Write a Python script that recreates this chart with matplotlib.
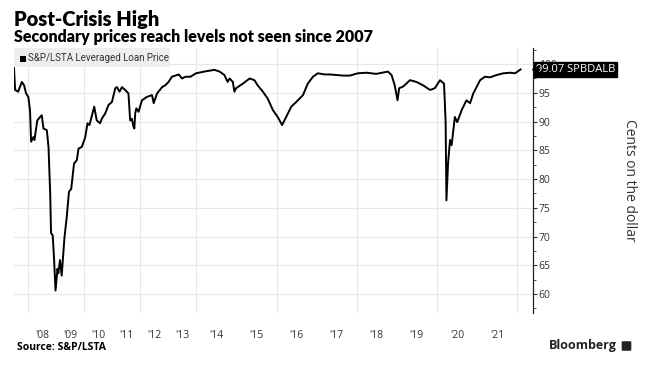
import matplotlib;
matplotlib.use('Agg');
import matplotlib.pyplot as plt;
import numpy as np;
from matplotlib.patches import Rectangle, FancyBboxPatch;

#data (decimal year , price in cents)
years = [2007.50, 2007.54, 2007.65, 2007.78, 2007.86, 2007.93, 2008.01, 2008.07, 2008.11, 2008.19,
         2008.23, 2008.33, 2008.43, 2008.49, 2008.55, 2008.67, 2008.73, 2008.79, 2008.82, 2008.88,
         2008.93, 2008.98, 2009.05, 2009.08, 2009.14, 2009.20, 2009.30, 2009.38, 2009.46, 2009.54,
         2009.64, 2009.74, 2009.80, 2009.92, 2010.04, 2010.12, 2010.19, 2010.28, 2010.36, 2010.45,
         2010.57, 2010.63, 2010.75, 2010.87, 2010.99, 2011.11, 2011.17, 2011.26, 2011.35, 2011.46,
         2011.58, 2011.64, 2011.70, 2011.76, 2011.79, 2011.82, 2011.86, 2011.94, 2012.06, 2012.24,
         2012.42, 2012.48, 2012.60, 2012.78, 2012.89, 2013.01, 2013.13, 2013.37, 2013.49, 2013.61,
         2013.79, 2013.99, 2014.20, 2014.45, 2014.58, 2014.70, 2014.78, 2014.83, 2014.91, 2014.95,
         2014.99, 2015.16, 2015.33, 2015.45, 2015.53, 2015.66, 2015.78, 2015.91, 2016.03, 2016.14,
         2016.24, 2016.37, 2016.49, 2016.66, 2016.78, 2016.91, 2017.03, 2017.20, 2017.33, 2017.49,
         2017.66, 2017.83, 2018.03, 2018.24, 2018.49, 2018.78, 2018.87, 2018.95, 2019.02, 2019.06,
         2019.16, 2019.33, 2019.49, 2019.66, 2019.83, 2019.95, 2020.08, 2020.18, 2020.22, 2020.24,
         2020.28, 2020.33, 2020.37, 2020.45, 2020.51, 2020.62, 2020.74, 2020.83, 2020.91, 2021.08,
         2021.20, 2021.33, 2021.49, 2021.66, 2021.83, 2021.95, 2022.09];
prices = [99.3, 95.5, 95.2, 96.9, 96.3, 94.9, 94.3, 92.0, 86.5, 87.3,
          86.8, 90.2, 90.8, 91.1, 88.8, 88.5, 85.6, 77.5, 70.6, 70.2,
          65.9, 60.6, 64.4, 63.6, 65.9, 63.2, 69.9, 73.4, 77.8, 78.3,
          82.7, 83.3, 85.3, 85.6, 87.3, 89.7, 89.4, 91.1, 92.6, 90.2,
          89.7, 90.5, 91.4, 92.9, 93.4, 95.8, 96.0, 95.2, 96.0, 95.5,
          94.9, 90.2, 90.5, 89.1, 88.8, 91.4, 92.3, 91.7, 93.7, 94.3,
          94.6, 93.2, 94.9, 96.0, 96.3, 96.9, 97.8, 98.2, 97.5, 97.8,
          97.8, 98.4, 98.7, 99.0, 98.7, 98.1, 96.9, 97.5, 96.9, 95.2,
          95.8, 96.6, 97.5, 97.2, 96.3, 95.2, 94.0, 92.0, 90.8, 89.4,
          90.8, 92.6, 93.4, 94.6, 96.6, 97.8, 98.4, 98.2, 98.2, 98.1,
          98.0, 98.0, 98.4, 98.5, 98.3, 98.7, 98.1, 96.3, 93.7, 95.8,
          96.1, 97.2, 96.9, 96.3, 95.5, 95.8, 97.2, 96.6, 89.9, 76.3,
          82.7, 86.8, 85.9, 90.8, 89.9, 92.0, 93.7, 93.2, 94.9, 97.2,
          97.8, 97.7, 98.1, 98.4, 98.5, 98.4, 99.07];
last_price = 99.07;
ticker = 'SPBDALB';
year_labels = ["'08", "'09", "'10", "'11", "'12", "'13", "'14", "'15", "'16", "'17", "'18", "'19", "'20", "'21"];
label_years = list(range(2008, 2022));
y_ticks = [60, 65, 70, 75, 80, 85, 90, 95, 100];

plt.rcParams['font.family'] = ['Open Sans', 'DejaVu Sans'];

#bloomberg squeezes the early years, 28px/yr before 2014 and 40px/yr after
def fwd(t):
    t = np.asarray(t, dtype=float);
    return np.where(t <= 2014, (t - 2008) * 28.0, 168.0 + (t - 2014) * 40.0);

def inv(u):
    u = np.asarray(u, dtype=float);
    return np.where(u <= 168, 2008 + u / 28.0, 2014 + (u - 168) / 40.0);

fig = plt.figure(figsize=(6.54, 3.82), dpi=100);
ax = fig.add_axes([14/654, 1 - 313/382, 519/654, 265/382]);
ax.set_xscale('function', functions=(fwd, inv));

ax.plot(years, prices, color='black', linewidth=1.4, solid_joinstyle='round');

ax.set_xlim(2007.5, 2022.4);
ax.set_ylim(56.7, 102.8);

#x axis
ax.set_xticks([y + 0.5 for y in label_years]);
ax.set_xticklabels(year_labels, fontsize=7.5, color='#333333');
ax.set_xticks(list(range(2008, 2023, 2)), minor=True);
ax.tick_params(axis='x', which='both', length=0, pad=12);
ax.grid(axis='x', which='minor', color='#e8e8e8', linewidth=0.8);

#y axis on the right
ax.yaxis.tick_right();
ax.set_yticks(y_ticks);
ax.set_yticklabels([str(v) for v in y_ticks], fontsize=7.5, color='#333333');
ax.set_yticks(np.arange(57.5, 102.6, 5.0), minor=True);
ax.tick_params(axis='y', which='major', length=3, width=0.8, pad=1, colors='#333333');
ax.tick_params(axis='y', which='minor', length=2, width=0.6, colors='#333333');
ax.grid(axis='y', which='major', color='#e8e8e8', linewidth=0.8);
ax.set_axisbelow(True);

for s in ['top', 'left', 'bottom']:
    ax.spines[s].set_visible(False);
ax.spines['right'].set_color('#222222');
ax.spines['right'].set_linewidth(0.9);

ax.yaxis.set_label_position('right');
ax.set_ylabel('Cents on the dollar', rotation=270, fontsize=10, color='#333333', labelpad=58);

#last value tag
ax.text(1.006, last_price, f'{last_price:.2f} {ticker}', transform=ax.get_yaxis_transform(),
        fontsize=8, color='white', va='center', ha='left', zorder=5,
        bbox=dict(boxstyle='square,pad=0.15', facecolor='black', edgecolor='black'));
ax.plot([1.003], [last_price], marker='<', color='black', markersize=5,
        transform=ax.get_yaxis_transform(), clip_on=False, zorder=5);

#legend box
fig.patches.append(Rectangle((14/654, 1 - 67/382), 156/654, 19/382, transform=fig.transFigure,
                             facecolor='#eeeeee', edgecolor='none'));
fig.patches.append(Rectangle((20/654, 1 - 62/382), 6/654, 6/382, transform=fig.transFigure,
                             facecolor='black', edgecolor='none'));
fig.text(28/654, 1 - 58/382, 'S&P/LSTA Leveraged Loan Price', fontsize=7, family='Roboto',
         color='#333333', va='center');

#titles
fig.text(14/654, 1 - 26/382, 'Post-Crisis High', fontsize=14.5, fontweight='heavy', family='Lato', va='baseline');
fig.text(14/654, 1 - 42/382, 'Secondary prices reach levels not seen since 2007', fontsize=11.5,
         fontweight='heavy', family='Lato', va='baseline');

#footer
fig.text(17/654, 1 - 348/382, 'Source: S&P/LSTA', fontsize=7.5, fontweight='bold', va='center');
fig.text(617/654, 1 - 346/382, 'Bloomberg', fontsize=9, fontweight='bold', ha='right', va='center', color='#222222');
fig.patches.append(FancyBboxPatch((623/654, 1 - 350/382), 7/654, 8/382, boxstyle='round,pad=0.002',
                                  transform=fig.transFigure, facecolor='#222222', edgecolor='none'));

fig.savefig('out.png', dpi=100);
